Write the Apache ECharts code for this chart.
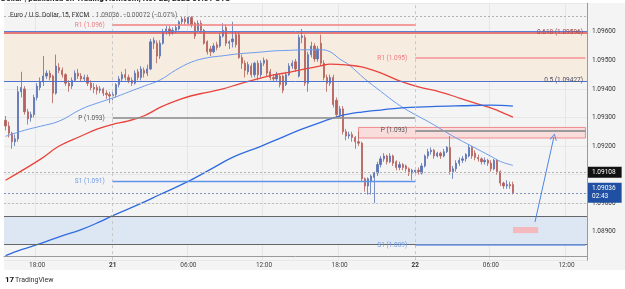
<!DOCTYPE html>
<html><head><meta charset="utf-8">
<script src="https://cdn.jsdelivr.net/npm/echarts@6/dist/echarts.min.js"></script>
<style>html,body{margin:0;padding:0;background:#fff;}#c{width:625px;height:289px;}</style>
</head><body><div id="c"></div>
<script>
// ---------- DATA ----------
// 15-minute slots, Nov 20 15:30 -> Nov 22 13:30
const slotCount = 185;
const firstSlotUTC = Date.UTC(2023, 10, 20, 15, 30);
function fmtTime(ms){const d=new Date(ms);const p=n=>String(n).padStart(2,'0');return d.getUTCFullYear()+'-'+p(d.getUTCMonth()+1)+'-'+p(d.getUTCDate())+' '+p(d.getUTCHours())+':'+p(d.getUTCMinutes());}
const categories = [];
for (let k = 0; k < slotCount; k++) categories.push(fmtTime(firstSlotUTC + k * 900000));

const tickTimes = ['2023-11-20 18:00','2023-11-21 00:00','2023-11-21 06:00','2023-11-21 12:00','2023-11-21 18:00','2023-11-22 00:00','2023-11-22 06:00','2023-11-22 12:00'];
const tickTexts = ['18:00','21','06:00','12:00','18:00','22','06:00','12:00'];
const dayTicks = ['2023-11-21 00:00','2023-11-22 00:00'];
const priceTicks = [1.089,1.090,1.091,1.092,1.093,1.094,1.095,1.096];

// [open, close, low, high]
const candles = [
[1.09290,1.09270,1.09255,1.09305],[1.09270,1.09245,1.09230,1.09285],[1.09245,1.09215,1.09190,1.09250],[1.09215,1.09225,1.09200,1.09240],
[1.09225,1.09390,1.09215,1.09410],[1.09390,1.09405,1.09370,1.09460],[1.09400,1.09320,1.09310,1.09410],[1.09320,1.09295,1.09275,1.09330],
[1.09300,1.09310,1.09285,1.09320],[1.09310,1.09370,1.09300,1.09380],[1.09370,1.09410,1.09360,1.09420],[1.09405,1.09425,1.09395,1.09440],
[1.09425,1.09445,1.09410,1.09515],[1.09445,1.09455,1.09435,1.09465],[1.09455,1.09440,1.09430,1.09465],[1.09445,1.09385,1.09350,1.09450],
[1.09385,1.09480,1.09380,1.09520],[1.09475,1.09465,1.09455,1.09490],[1.09465,1.09450,1.09440,1.09475],[1.09450,1.09420,1.09410,1.09455],
[1.09420,1.09410,1.09390,1.09430],[1.09410,1.09430,1.09400,1.09440],[1.09430,1.09455,1.09425,1.09465],[1.09455,1.09445,1.09435,1.09470],
[1.09445,1.09435,1.09425,1.09455],[1.09435,1.09440,1.09425,1.09450],[1.09440,1.09420,1.09410,1.09450],[1.09420,1.09405,1.09395,1.09430],
[1.09405,1.09400,1.09385,1.09420],[1.09405,1.09395,1.09380,1.09415],[1.09395,1.09400,1.09385,1.09410],[1.09400,1.09385,1.09375,1.09405],
[1.09385,1.09380,1.09365,1.09395],[1.09380,1.09375,1.09350,1.09390],
[1.09375,1.09380,1.09360,1.09390],[1.09380,1.09415,1.09370,1.09420],[1.09415,1.09435,1.09405,1.09445],[1.09435,1.09450,1.09425,1.09460],
[1.09450,1.09440,1.09430,1.09470],[1.09440,1.09430,1.09420,1.09450],[1.09430,1.09420,1.09410,1.09440],[1.09420,1.09455,1.09415,1.09465],
[1.09460,1.09440,1.09430,1.09470],[1.09440,1.09470,1.09430,1.09480],[1.09465,1.09455,1.09440,1.09475],[1.09455,1.09470,1.09445,1.09485],
[1.09470,1.09565,1.09465,1.09575],[1.09560,1.09570,1.09540,1.09580],[1.09560,1.09515,1.09490,1.09570],[1.09515,1.09560,1.09505,1.09570],
[1.09560,1.09600,1.09555,1.09610],[1.09600,1.09610,1.09590,1.09620],[1.09610,1.09595,1.09585,1.09620],[1.09595,1.09605,1.09590,1.09615],
[1.09605,1.09615,1.09595,1.09625],[1.09610,1.09635,1.09605,1.09640],[1.09635,1.09645,1.09625,1.09655],[1.09645,1.09635,1.09625,1.09655],
[1.09630,1.09650,1.09625,1.09655],[1.09650,1.09625,1.09615,1.09655],[1.09630,1.09585,1.09575,1.09635],[1.09605,1.09630,1.09600,1.09640],
[1.09630,1.09605,1.09595,1.09640],[1.09605,1.09560,1.09555,1.09610],[1.09565,1.09530,1.09520,1.09570],[1.09540,1.09530,1.09515,1.09550],
[1.09530,1.09550,1.09525,1.09560],[1.09555,1.09545,1.09535,1.09565],[1.09550,1.09585,1.09545,1.09595],[1.09585,1.09605,1.09580,1.09630],
[1.09615,1.09560,1.09550,1.09625],[1.09560,1.09565,1.09540,1.09570],[1.09565,1.09575,1.09545,1.09635],[1.09590,1.09555,1.09545,1.09600],
[1.09590,1.09510,1.09505,1.09600],[1.09510,1.09490,1.09470,1.09520],[1.09490,1.09465,1.09440,1.09500],[1.09460,1.09485,1.09450,1.09495],
[1.09480,1.09450,1.09440,1.09490],[1.09450,1.09490,1.09440,1.09495],[1.09490,1.09450,1.09430,1.09500],[1.09450,1.09490,1.09440,1.09500],
[1.09490,1.09500,1.09480,1.09510],[1.09500,1.09455,1.09445,1.09505],[1.09460,1.09440,1.09430,1.09470],[1.09440,1.09435,1.09425,1.09450],
[1.09435,1.09450,1.09425,1.09460],[1.09445,1.09415,1.09405,1.09450],[1.09445,1.09395,1.09385,1.09450],[1.09415,1.09450,1.09410,1.09460],
[1.09450,1.09480,1.09445,1.09490],[1.09480,1.09490,1.09470,1.09500],[1.09495,1.09470,1.09460,1.09505],[1.09445,1.09580,1.09440,1.09590],
[1.09580,1.09585,1.09560,1.09610],[1.09580,1.09420,1.09410,1.09590],[1.09420,1.09520,1.09390,1.09530],[1.09520,1.09550,1.09510,1.09565],
[1.09550,1.09505,1.09495,1.09560],[1.09505,1.09540,1.09495,1.09550],[1.09560,1.09490,1.09480,1.09590],[1.09490,1.09440,1.09430,1.09500],
[1.09440,1.09420,1.09390,1.09450],[1.09420,1.09440,1.09410,1.09450],[1.09440,1.09345,1.09335,1.09450],[1.09360,1.09310,1.09300,1.09370],
[1.09310,1.09330,1.09300,1.09340],[1.09330,1.09250,1.09240,1.09340],[1.09250,1.09235,1.09220,1.09260],[1.09235,1.09240,1.09225,1.09250],
[1.09240,1.09230,1.09215,1.09250],[1.09230,1.09215,1.09190,1.09235],[1.09215,1.09210,1.09200,1.09250],[1.09210,1.09085,1.09075,1.09215],
[1.09085,1.09060,1.09040,1.09090],[1.09060,1.09085,1.09030,1.09090],[1.09075,1.09095,1.09030,1.09100],[1.09090,1.09105,1.09000,1.09110],
[1.09105,1.09135,1.09095,1.09145],[1.09135,1.09155,1.09125,1.09165],[1.09155,1.09165,1.09145,1.09175],[1.09165,1.09145,1.09135,1.09170],
[1.09145,1.09165,1.09140,1.09175],[1.09165,1.09140,1.09130,1.09170],[1.09145,1.09125,1.09115,1.09150],[1.09125,1.09135,1.09115,1.09145],
[1.09135,1.09125,1.09115,1.09140],[1.09130,1.09120,1.09110,1.09135],[1.09120,1.09105,1.09095,1.09125],[1.09105,1.09115,1.09080,1.09120],
[1.09110,1.09115,1.09100,1.09125],[1.09115,1.09110,1.09100,1.09125],[1.09105,1.09130,1.09100,1.09140],[1.09130,1.09165,1.09125,1.09170],
[1.09165,1.09180,1.09155,1.09190],[1.09180,1.09185,1.09170,1.09195],[1.09185,1.09165,1.09155,1.09190],[1.09165,1.09175,1.09160,1.09180],
[1.09175,1.09165,1.09155,1.09180],[1.09165,1.09180,1.09160,1.09190],[1.09180,1.09195,1.09175,1.09200],[1.09195,1.09110,1.09100,1.09235],
[1.09110,1.09120,1.09085,1.09130],[1.09120,1.09140,1.09110,1.09150],[1.09140,1.09150,1.09130,1.09160],[1.09150,1.09155,1.09140,1.09165],
[1.09155,1.09170,1.09145,1.09175],[1.09165,1.09195,1.09160,1.09205],[1.09195,1.09165,1.09155,1.09200],[1.09175,1.09160,1.09150,1.09185],
[1.09160,1.09155,1.09145,1.09170],[1.09155,1.09145,1.09135,1.09160],[1.09145,1.09150,1.09135,1.09160],[1.09150,1.09140,1.09130,1.09155],
[1.09140,1.09120,1.09110,1.09150],[1.09120,1.09150,1.09115,1.09155],[1.09150,1.09110,1.09100,1.09155],[1.09110,1.09070,1.09060,1.09115],
[1.09070,1.09060,1.09050,1.09075],[1.09060,1.09065,1.09050,1.09080],[1.09065,1.09060,1.09050,1.09075],[1.09065,1.09036,1.09030,1.09075]
];

// moving averages: [slot index, price]
const maFast = [[0,1.09234],[6,1.09255],[11,1.09269],[17,1.09287],[24,1.09329],[29,1.09350],[34,1.09368],[39,1.09389],[44,1.09410],[49,1.09431],[54,1.09466],[59,1.09494],[64,1.09509],[69,1.09516],[74,1.09523],[80,1.09528],[85,1.09533],[90,1.09535],[95,1.09537],[100,1.09537],[103,1.09530],[106,1.09505],[109,1.09484],[114,1.09435],[119,1.09392],[124,1.09350],[128,1.09322],[135,1.09280],[142,1.09234],[148,1.09199],[154,1.09164],[157,1.09146],[161,1.09132]];
const maMid = [[0,1.09080],[11,1.09153],[17,1.09200],[24,1.09235],[29,1.09259],[34,1.09276],[39,1.09288],[44,1.09306],[49,1.09335],[54,1.09358],[59,1.09376],[64,1.09388],[69,1.09400],[74,1.09417],[80,1.09435],[85,1.09449],[90,1.09458],[95,1.09470],[100,1.09481],[103,1.09487],[108,1.09484],[113,1.09477],[119,1.09456],[125,1.09428],[131,1.09407],[138,1.09389],[144,1.09368],[150,1.09347],[155,1.09329],[158,1.09315],[161,1.09301]];
const maSlow = [[0,1.08816],[5,1.08837],[11,1.08858],[17,1.08882],[24,1.08907],[30,1.08935],[34,1.08956],[43,1.08999],[49,1.09030],[58,1.09076],[65,1.09118],[72,1.09160],[81,1.09199],[87,1.09227],[94,1.09259],[100,1.09283],[106,1.09305],[113,1.09319],[119,1.09326],[125,1.09333],[135,1.09338],[145,1.09341],[154,1.09343],[161,1.09340]];

// levels
const pivots21 = [{text:'R1 (1.096)',value:1.09624,color:'#f27f7f',label:'#ee7d7d',width:1.5},{text:'P (1.093)',value:1.09298,color:'#8a8a8a',label:'#555',width:1.5},{text:'S1 (1.091)',value:1.09077,color:'#5f93ea',label:'#6e9be6',width:1.3}];
const pivots22 = [{text:'R1 (1.095)',value:1.09508,color:'#f5a9a9',label:'#ee7d7d',width:2},{text:'P (1.093)',value:1.09253,color:'#9a9a9a',label:'#555',width:2},{text:'S1 (1.089)',value:1.08853,color:'#6d98e3',label:'#6e9be6',width:1.5}];
const fib618 = 1.09596, fib500 = 1.09427, fibTopBlue = 1.09603;
const topDotted = 1.09656, refPrice = 1.09108, lastPrice = 1.09036, roundLevel = 1.09000, countdown = '02:43';
const zoneTop = 1.08955, zoneBottom = 1.08856;
const resistBox = {startSlot:112, top:1.09265, bottom:1.09228};
const targetMark = {startSlot:161, endSlot:169, top:1.08916, bottom:1.08895};
const arrowFrom = [168, 1.08934], arrowTo = [174, 1.09232];

// ---------- CHART ----------
const FONT = 'Roboto';
const UP = '#5a72b4', DOWN = '#b5605b';
const chart = echarts.init(document.getElementById('c'));
const lastCat = categories[categories.length - 1];

const pivotLines = [];
pivots21.forEach(p => pivotLines.push([
  {coord:[dayTicks[0], p.value], lineStyle:{color:p.color, width:p.width, type:'solid'}, label:{show:true, position:'start', distance:8, formatter:p.text, color:p.label, fontSize:6.5, fontFamily:FONT}},
  {coord:[dayTicks[1], p.value]}]));
pivots22.forEach(p => pivotLines.push([
  {coord:[dayTicks[1], p.value], lineStyle:{color:p.color, width:p.width, type:'solid'}, label:{show:true, position:'start', distance:8, formatter:p.text, color:p.label, fontSize:6.5, fontFamily:FONT}},
  {coord:[lastCat, p.value]}]));

const option = {
  animation:false,
  textStyle:{fontFamily:FONT},
  grid:{left:4, right:38, top:3.25, bottom:28.8, containLabel:false},
  xAxis:{type:'category', data:categories, boundaryGap:true, offset:-4.2,
    axisLine:{show:true, lineStyle:{color:'#9a9a9a', width:1}},
    axisTick:{show:false},
    axisLabel:{interval:(i,v)=>tickTimes.indexOf(v)>=0, margin:6, fontSize:6.5, color:'#444', fontFamily:FONT,
      formatter:v=>{const t=tickTexts[tickTimes.indexOf(v)]; return dayTicks.indexOf(v)>=0?'{b|'+t+'}':t;},
      rich:{b:{fontWeight:'bold', fontSize:6.5, color:'#333', fontFamily:FONT}}},
    splitLine:{show:true, interval:(i,v)=>tickTimes.indexOf(v)>=0 && dayTicks.indexOf(v)<0, lineStyle:{color:'#e6e6e6', width:1}}
  },
  yAxis:{type:'value', position:'right', min:1.088, max:1.097, interval:0.001, scale:true,
    axisLine:{show:true, lineStyle:{color:'#9a9a9a'}},
    axisTick:{show:false},
    axisLabel:{margin:5, fontSize:6.5, color:'#333', fontFamily:FONT,
      formatter:v=>priceTicks.some(t=>Math.abs(t-v)<1e-7)?v.toFixed(5):''},
    splitLine:{show:true, lineStyle:{color:'#e8e8e8', width:1}}
  },
  series:[
    {type:'line', name:'zones', data:[], z:1, silent:true,
      markArea:{silent:true, data:[
        [{yAxis:fib618, itemStyle:{color:'#f6ece0'}},{yAxis:fib500}],
        [{yAxis:zoneTop, itemStyle:{color:'#dde6f3'}},{yAxis:zoneBottom}],
        [{coord:[resistBox.startSlot, resistBox.top], itemStyle:{color:'#f9dcdc', borderColor:'#f08c8c', borderWidth:1}},{coord:[lastCat, resistBox.bottom]}],
        [{coord:[targetMark.startSlot, targetMark.top], itemStyle:{color:'#f4b9bc'}},{coord:[targetMark.endSlot, targetMark.bottom]}]
      ]}
    },
    {type:'line', name:'levels', data:[], z:2, silent:true,
      markLine:{silent:true, precision:6, symbol:['none','none'], label:{show:false},
        data:[
          {xAxis:dayTicks[0], lineStyle:{color:'#c9c9c9', type:[3,3], width:1}},
          {xAxis:dayTicks[1], lineStyle:{color:'#c9c9c9', type:[3,3], width:1}},
          {yAxis:topDotted, lineStyle:{color:'#b3b3b3', type:[2,2], width:1}},
          {yAxis:roundLevel, lineStyle:{color:'#c0c0c0', type:[2,2], width:1}},
          {yAxis:fibTopBlue, lineStyle:{color:'#5b7fd6', type:'solid', width:1}},
          {yAxis:fib618, lineStyle:{color:'#e05555', type:'solid', width:1.5}},
          {yAxis:fib500, lineStyle:{color:'#4d72d1', type:'solid', width:1}},
          {yAxis:zoneTop, lineStyle:{color:'#666', type:'solid', width:1.2}},
          {yAxis:zoneBottom, lineStyle:{color:'#666', type:'solid', width:1.2}},
          {yAxis:refPrice, lineStyle:{color:'#b3b3b3', type:[2,2], width:1},
            label:{show:true, position:'end', distance:1, formatter:refPrice.toFixed(5), color:'#fff', backgroundColor:'#111', padding:[2,6,2,4], fontSize:6.5, fontFamily:FONT}},
          {yAxis:lastPrice, lineStyle:{color:'#7d93c0', type:[2,2], width:1},
            label:{show:true, position:'end', distance:1, formatter:lastPrice.toFixed(5)+'\n'+countdown, color:'#fff', backgroundColor:'#1f50a3', padding:[2,6,2,4], lineHeight:8, fontSize:6.5, fontFamily:FONT}}
        ].concat(pivotLines)
      }
    },
    {type:'candlestick', name:'EURUSD', data:candles, z:3, barWidth:1.7,
      itemStyle:{color:UP, color0:DOWN, borderColor:UP, borderColor0:DOWN, borderWidth:0.8}},
    {type:'line', name:'MA fast', data:maFast, z:4, symbol:'none', smooth:0.4, lineStyle:{color:'#6d9cec', width:1}},
    {type:'line', name:'MA mid', data:maMid, z:4, symbol:'none', smooth:0.4, lineStyle:{color:'#e8443c', width:1.3}},
    {type:'line', name:'MA slow', data:maSlow, z:4, symbol:'none', smooth:0.4, lineStyle:{color:'#2f6be0', width:1.3}},
    {type:'line', name:'arrow', data:[], z:5, silent:true,
      markLine:{silent:true, precision:6, label:{show:false}, symbol:['none','path://M5,0 L10,9 L9,9.8 L5,2.2 L1,9.8 L0,9 Z'], symbolSize:[7,7],
        lineStyle:{color:'#4a86e8', width:1, type:'solid'},
        data:[[{coord:arrowFrom},{coord:arrowTo}]]}
    }
  ]
};
chart.setOption(option);

// texts; fib labels anchored to their price levels
const yFib618 = chart.convertToPixel({yAxisIndex:0}, fib618);
const yFib500 = chart.convertToPixel({yAxisIndex:0}, fib500);
chart.setOption({graphic:[
  {id:'bg', type:'rect', z:-10, silent:true, shape:{x:4, y:3, width:621, height:267}, style:{fill:'#f4f4f4'}},
  {id:'title', type:'text', z:100, left:1, top:-5, style:{text:'Dollar | published on TradingView.com, Nov 22, 2023 09:51 UTC', font:'bold 8px Roboto', fill:'#222'}},
  {id:'legend', type:'text', z:100, left:10, top:9, style:{rich:{a:{fontSize:6.5, fill:'#333', fontFamily:FONT}, b:{fontSize:6.5, fill:'#666', fontFamily:FONT}}, text:'{a|Euro / U.S. Dollar, 15, FXCM}  {b|1.09036  −0.00072 (−0.07%)}'}},
  {id:'logo', type:'text', z:100, left:5, top:276, style:{text:'17', font:'bold 8px Roboto', fill:'#111'}},
  {id:'brand', type:'text', z:100, left:15, top:277, style:{text:'TradingView', font:'7px Roboto', fill:'#333'}},
  {id:'fib618', type:'text', z:100, right:42, top:yFib618-4, style:{text:'0.618 ('+fib618.toFixed(5)+')', font:'6.5px Roboto', fill:'#a04848'}},
  {id:'fib500', type:'text', z:100, right:42, top:yFib500-4, style:{text:'0.5 ('+fib500.toFixed(5)+')', font:'6.5px Roboto', fill:'#4a4f66'}}
]});
</script></body></html>
